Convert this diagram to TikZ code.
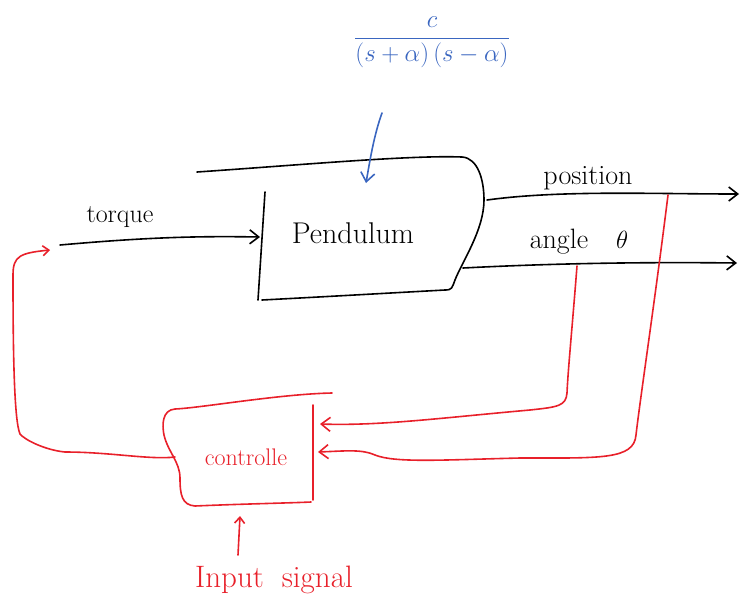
\documentclass[tikz,border=0pt]{standalone}
\usetikzlibrary{arrows.meta}
\definecolor{inkred}{HTML}{E8202A}
\definecolor{inkblue}{HTML}{3A66C0}
\tikzset{
  ink/.style={line width=1.6pt, line cap=round, line join=round},
  blk/.style={ink, black},
  rd/.style={ink, inkred},
  bl/.style={ink, inkblue},
  tip/.style={-{Straight Barb[length=9pt,width=14pt,line width=1.6pt]}},
  smalltip/.style={-{Straight Barb[length=6pt,width=10pt,line width=1.6pt]}},
  lbl/.style={inner sep=0pt}
}
\begin{document}
\begin{tikzpicture}[x=1pt,y=-1pt]
\useasboundingbox (0,0) rectangle (742,611);

% transfer function of the plant
\node[lbl, text=inkblue, font=\fontsize{25}{28}\selectfont] (tf) at (432,42) {$\displaystyle\frac{c}{(s+\alpha)\,(s-\alpha)}$};
\coordinate (tfout) at (382,113);

% pendulum block
\node[lbl, font=\fontsize{30}{32}\selectfont] (pend) at (353,233) {Pendulum};
\draw[blk] (197,172) .. controls (300,165) and (410,155) .. (462,157)
  .. controls (478,158) and (484,180) .. (484,200)
  .. controls (484,230) and (462,262) .. (455,280)
  .. controls (452,288) and (452,290) .. (445,290)
  .. controls (390,293) and (320,297) .. (262,300);
\draw[blk] (265,192) -- (258,300);
\coordinate (pin) at (260,237);
\coordinate (ppos) at (487,200);
\coordinate (pang) at (463,268);

% signals
\coordinate (tq) at (60,245);
\coordinate (posend) at (739,194);
\coordinate (angend) at (737,263);
\node[lbl, font=\fontsize{26}{28}\selectfont] (tqlbl) at (120,217) {torque};
\node[lbl, font=\fontsize{28}{30}\selectfont] (poslbl) at (588,178) {position};
\node[lbl, font=\fontsize{28}{30}\selectfont] (anglbl) at (579,242) {angle\quad$\theta$};

\draw[blk, tip] (tq) .. controls (150,237) and (200,236) .. (pin);
\draw[blk, tip] (ppos) .. controls (560,190) and (650,194) .. (posend);
\draw[blk, tip] (pang) .. controls (560,263) and (650,262) .. (angend);
\draw[bl, tip] (tfout) .. controls (374,135) and (370,160) .. (366,183);

% controller block
\node[lbl, text=inkred, font=\fontsize{24}{26}\selectfont] (ctrl) at (246,457) {controlle};
\draw[rd] (332,393) .. controls (280,394) and (200,408) .. (175,409)
  .. controls (162,410) and (162,425) .. (164,435)
  .. controls (168,452) and (180,462) .. (180,478)
  .. controls (180,495) and (182,505) .. (195,506)
  .. controls (240,504) and (290,503) .. (311,502);
\draw[rd] (313,405) -- (313,500);
\coordinate (cin1) at (320,424);
\coordinate (cin2) at (318,452);
\coordinate (cout) at (175,457);

% feedback paths
\coordinate (tapang) at (577,266);
\coordinate (tappos) at (668,195);
\draw[rd, tip] (tapang) .. controls (572,330) and (568,370) .. (567,393)
  .. controls (566,406) and (558,407) .. (530,410)
  .. controls (440,418) and (380,426) .. (cin1);
\draw[rd, tip] (tappos) .. controls (655,300) and (640,400) .. (636,435)
  .. controls (634,460) and (600,458) .. (520,458)
  .. controls (440,460) and (395,463) .. (375,455)
  .. controls (362,449) and (345,451) .. (cin2);
\coordinate (tqin) at (50,250);
\draw[rd, smalltip] (cout) .. controls (150,460) and (110,452) .. (65,452)
  .. controls (45,450) and (25,440) .. (20,434)
  .. controls (14,420) and (13,350) .. (13,275)
  .. controls (13,256) and (20,253) .. (tqin);

% external input
\node[lbl, text=inkred, font=\fontsize{31}{33}\selectfont] (inp) at (274,580) {Input\; signal};
\coordinate (inpfrom) at (238,555);
\coordinate (inpto) at (240,516);
\draw[rd, smalltip] (inpfrom) -- (inpto);
\end{tikzpicture}
\end{document}
